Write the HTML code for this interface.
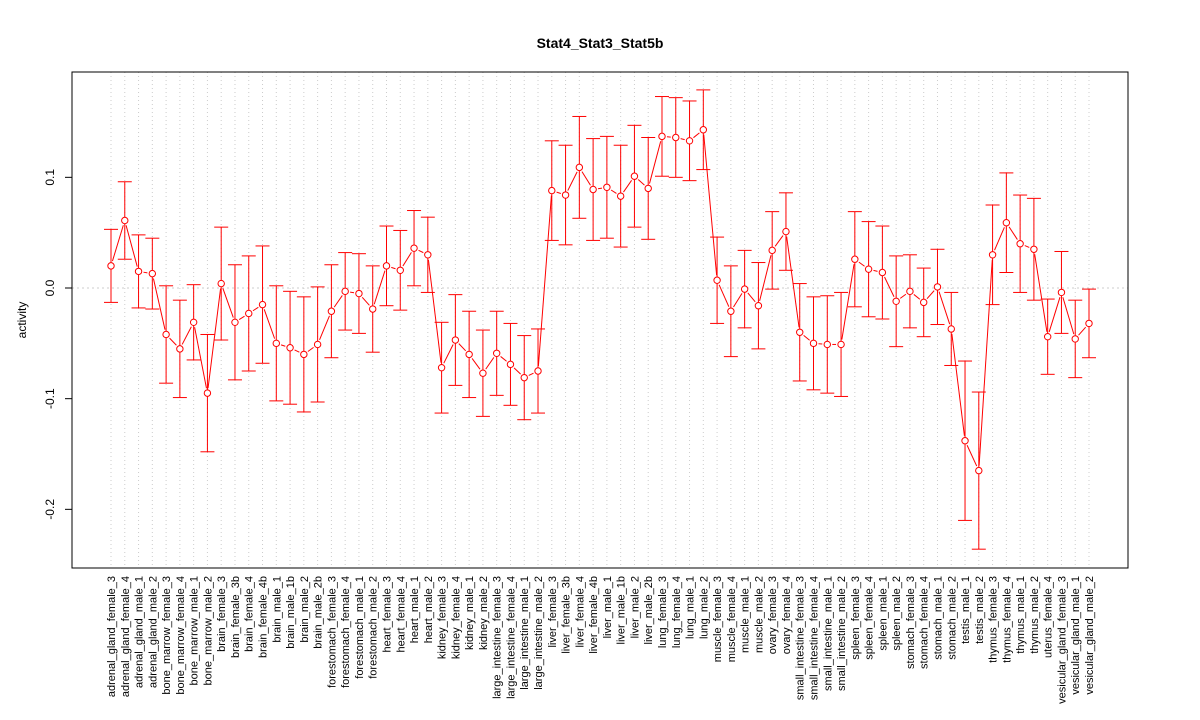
<!DOCTYPE html>
<html><head><meta charset="utf-8"><style>body{margin:0;background:#fff}svg{display:block;font-family:"Liberation Sans",sans-serif}</style></head>
<body>
<svg id="chart" width="1200" height="720"></svg>
<script>
const categories=["adrenal_gland_female_3","adrenal_gland_female_4","adrenal_gland_male_1","adrenal_gland_male_2","bone_marrow_female_3","bone_marrow_female_4","bone_marrow_male_1","bone_marrow_male_2","brain_female_3","brain_female_3b","brain_female_4","brain_female_4b","brain_male_1","brain_male_1b","brain_male_2","brain_male_2b","forestomach_female_3","forestomach_female_4","forestomach_male_1","forestomach_male_2","heart_female_3","heart_female_4","heart_male_1","heart_male_2","kidney_female_3","kidney_female_4","kidney_male_1","kidney_male_2","large_intestine_female_3","large_intestine_female_4","large_intestine_male_1","large_intestine_male_2","liver_female_3","liver_female_3b","liver_female_4","liver_female_4b","liver_male_1","liver_male_1b","liver_male_2","liver_male_2b","lung_female_3","lung_female_4","lung_male_1","lung_male_2","muscle_female_3","muscle_female_4","muscle_male_1","muscle_male_2","ovary_female_3","ovary_female_4","small_intestine_female_3","small_intestine_female_4","small_intestine_male_1","small_intestine_male_2","spleen_female_3","spleen_female_4","spleen_male_1","spleen_male_2","stomach_female_3","stomach_female_4","stomach_male_1","stomach_male_2","testis_male_1","testis_male_2","thymus_female_3","thymus_female_4","thymus_male_1","thymus_male_2","uterus_female_4","vesicular_gland_female_3","vesicular_gland_male_1","vesicular_gland_male_2"];
const activity=[0.020,0.061,0.015,0.013,-0.042,-0.055,-0.031,-0.095,0.004,-0.031,-0.023,-0.015,-0.050,-0.054,-0.060,-0.051,-0.021,-0.003,-0.005,-0.019,0.020,0.016,0.036,0.030,-0.072,-0.047,-0.060,-0.077,-0.059,-0.069,-0.081,-0.075,0.088,0.084,0.109,0.089,0.091,0.083,0.101,0.090,0.137,0.136,0.133,0.143,0.007,-0.021,-0.001,-0.016,0.034,0.051,-0.040,-0.050,-0.051,-0.051,0.026,0.017,0.014,-0.012,-0.003,-0.013,0.001,-0.037,-0.138,-0.165,0.030,0.059,0.040,0.035,-0.044,-0.004,-0.046,-0.032];
const errorHalf=[0.033,0.035,0.033,0.032,0.044,0.044,0.034,0.053,0.051,0.052,0.052,0.053,0.052,0.051,0.052,0.052,0.042,0.035,0.036,0.039,0.036,0.036,0.034,0.034,0.041,0.041,0.039,0.039,0.038,0.037,0.038,0.038,0.045,0.045,0.046,0.046,0.046,0.046,0.046,0.046,0.036,0.036,0.036,0.036,0.039,0.041,0.035,0.039,0.035,0.035,0.044,0.042,0.044,0.047,0.043,0.043,0.042,0.041,0.033,0.031,0.034,0.033,0.072,0.071,0.045,0.045,0.044,0.046,0.034,0.037,0.035,0.031];
const yTicks=[-0.2,-0.1,0.0,0.1];
const yTickLabels=["-0.2","-0.1","0.0","0.1"];
const NS="http://www.w3.org/2000/svg",svg=document.getElementById("chart");
const L=72,R=1128,T=72,B=568;
const x0=111,x1=1089;
function xs(i){return x0+(x1-x0)*i/(categories.length-1);}
function ys(v){return 288-v*1106.7;}
function mk(tag,attrs,name,parent){const e=document.createElementNS(NS,tag);for(const k in attrs)e.setAttribute(k,attrs[k]);


(parent||svg).appendChild(e);return e;}
const t=mk("text",{x:600,y:48,"text-anchor":"middle","font-size":14,"font-weight":"bold"},"chart-title");t.textContent="Stat4_Stat3_Stat5b";
const grid=mk("g",{},"grid");
categories.forEach((c,i)=>mk("line",{x1:xs(i),x2:xs(i),y1:T,y2:B,stroke:"#ccc","stroke-dasharray":"1,3"},"grid-line-x",grid));
mk("line",{x1:L,x2:R,y1:ys(0),y2:ys(0),stroke:"#ccc","stroke-dasharray":"2,3"},"zero-line",grid);
const ser=mk("g",{stroke:"#f00",fill:"none","stroke-width":1},"series");
for(let i=0;i<activity.length-1;i++){const ax=xs(i),ay=ys(activity[i]),bx=xs(i+1),by=ys(activity[i+1]);const dx=bx-ax,dy=by-ay,d=Math.hypot(dx,dy);if(d>10){const g=5/d;mk("line",{x1:ax+dx*g,y1:ay+dy*g,x2:bx-dx*g,y2:by-dy*g},"series-segment",ser);}}
activity.forEach((v,i)=>{const x=xs(i),lo=ys(v-errorHalf[i]),hi=ys(v+errorHalf[i]);
mk("line",{x1:x,x2:x,y1:hi,y2:lo},"error-bar",ser);
mk("line",{x1:x-7,x2:x+7,y1:hi,y2:hi},"error-cap-upper",ser);
mk("line",{x1:x-7,x2:x+7,y1:lo,y2:lo},"error-cap-lower",ser);
mk("circle",{cx:x,cy:ys(v),r:3.2,fill:"#fff"},"data-point",ser);});
mk("rect",{x:L,y:T,width:R-L,height:B-T,fill:"none",stroke:"#000"},"plot-frame");
const ya=mk("g",{},"y-axis");
yTicks.forEach((v,i)=>{const y=ys(v);mk("line",{x1:L-7,x2:L,y1:y,y2:y,stroke:"#000"},"y-tick",ya);
const tt=mk("text",{x:54,y:y,"font-size":12,"text-anchor":"middle",transform:`rotate(-90 54 ${y})`},"y-tick-label",ya);tt.textContent=yTickLabels[i];});
const yl=mk("text",{x:26,y:320,"font-size":12,"text-anchor":"middle",transform:"rotate(-90 26 320)"},"y-axis-title");yl.textContent="activity";
const xa=mk("g",{},"x-axis");
categories.forEach((c,i)=>{const x=xs(i)+4;const tt=mk("text",{x:x,y:576,"font-size":11,"text-anchor":"end",transform:`rotate(-90 ${x} 576)`},"x-tick-label",xa);tt.textContent=c;});
</script>
</body></html>
